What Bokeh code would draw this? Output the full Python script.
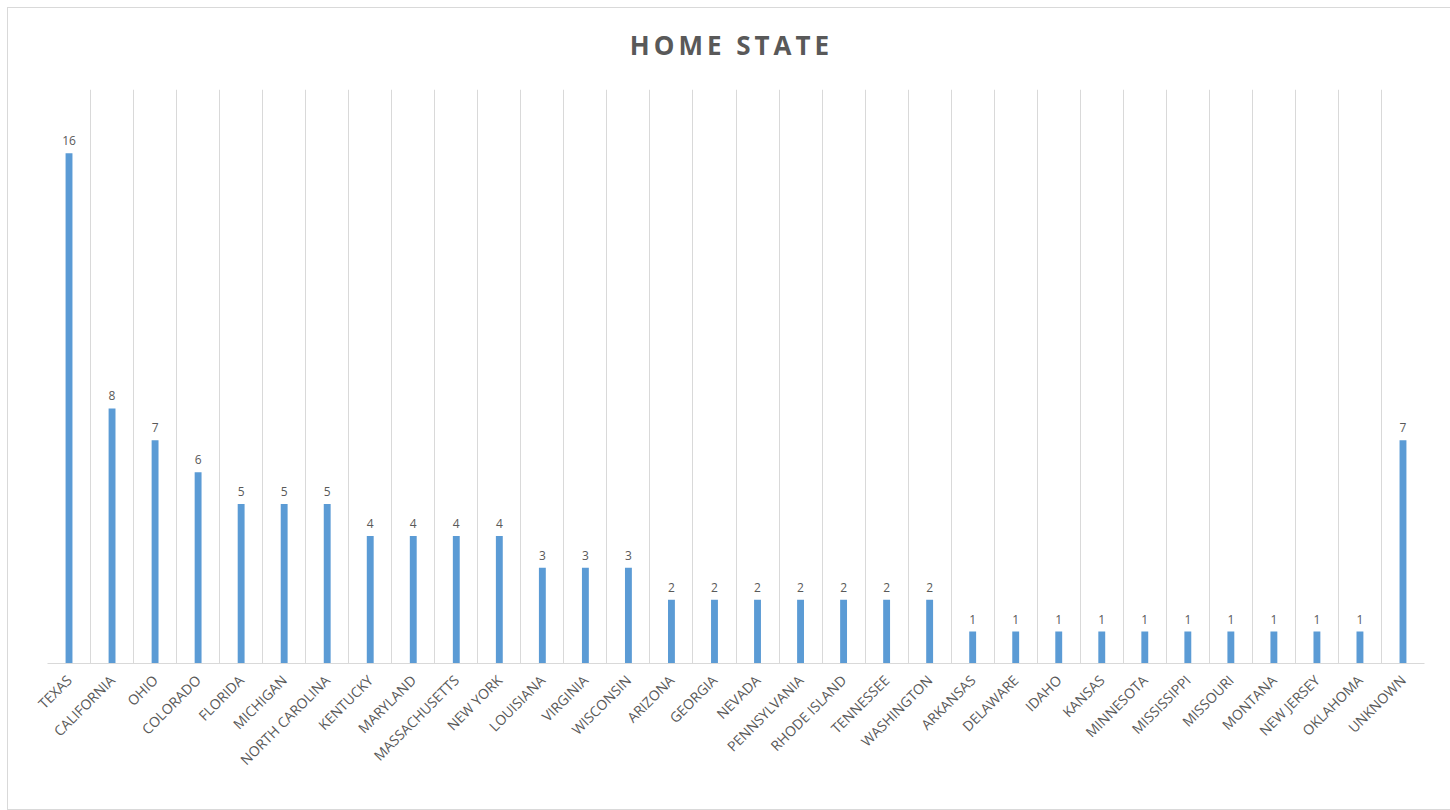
from bokeh.plotting import figure
from bokeh.models import FactorRange, Range1d, FixedTicker, ColumnDataSource, LabelSet, Div
from bokeh.layouts import column
from bokeh.embed import file_html
from bokeh.resources import INLINE
from bokeh.core.properties import value
import math

title_text = "HOME STATE"
states = ["TEXAS", "CALIFORNIA", "OHIO", "COLORADO", "FLORIDA", "MICHIGAN",
          "NORTH CAROLINA", "KENTUCKY", "MARYLAND", "MASSACHUSETTS", "NEW YORK",
          "LOUISIANA", "VIRGINIA", "WISCONSIN", "ARIZONA", "GEORGIA", "NEVADA",
          "PENNSYLVANIA", "RHODE ISLAND", "TENNESSEE", "WASHINGTON", "ARKANSAS",
          "DELAWARE", "IDAHO", "KANSAS", "MINNESOTA", "MISSISSIPPI", "MISSOURI",
          "MONTANA", "NEW JERSEY", "OKLAHOMA", "UNKNOWN"]
counts = [16, 8, 7, 6, 5, 5, 5, 4, 4, 4, 4, 3, 3, 3, 2, 2, 2, 2, 2, 2, 2,
          1, 1, 1, 1, 1, 1, 1, 1, 1, 1, 7]

src = ColumnDataSource(data=dict(state=states, count=counts,
                                 label=[str(c) for c in counts]))

p = figure(x_range=FactorRange(factors=states, range_padding=0),
           y_range=Range1d(0, 18),
           frame_width=1377, frame_height=574,
           min_border_left=39, min_border_right=21, min_border_top=11,
           min_border_bottom=146,
           output_backend="svg", toolbar_location=None)

p.vbar(x="state", top="count", width=0.16, source=src,
       fill_color="#5B9BD5", line_color=None)

labels = LabelSet(x="state", y="count", text="label", source=src,
                  text_align="center", text_baseline="bottom", y_offset=8,
                  text_font=value("Open Sans"), text_font_size="12px",
                  text_color="#595959")
p.add_layout(labels)

p.yaxis.visible = False
p.ygrid.visible = False
p.xgrid.ticker = FixedTicker(ticks=list(range(len(states) + 1)))
p.xgrid.grid_line_color = "#d9d9d9"
p.xaxis.axis_line_color = "#d9d9d9"
p.xaxis.major_tick_line_color = None
p.xaxis.minor_tick_line_color = None
p.xaxis.major_label_orientation = math.pi / 4
p.xaxis.major_label_text_font = "Open Sans"
p.xaxis.major_label_text_font_size = "14px"
p.xaxis.major_label_text_color = "#595959"
p.xaxis.major_label_standoff = 8
p.outline_line_color = None

title = Div(text=title_text, width=1437, height=60,
            styles={"font-family": "Open Sans", "font-size": "26px",
                    "font-weight": "bold", "letter-spacing": "4px",
                    "color": "#595959", "text-align": "center",
                    "line-height": "64px",
                    "box-sizing": "border-box"})

layout = column(title, p, spacing=0,
                styles={"border": "1px solid #d9d9d9", "background": "white"})
layout.margin = (7, 0, 0, 7)

open("out.html", "w").write(file_html(layout, INLINE))
